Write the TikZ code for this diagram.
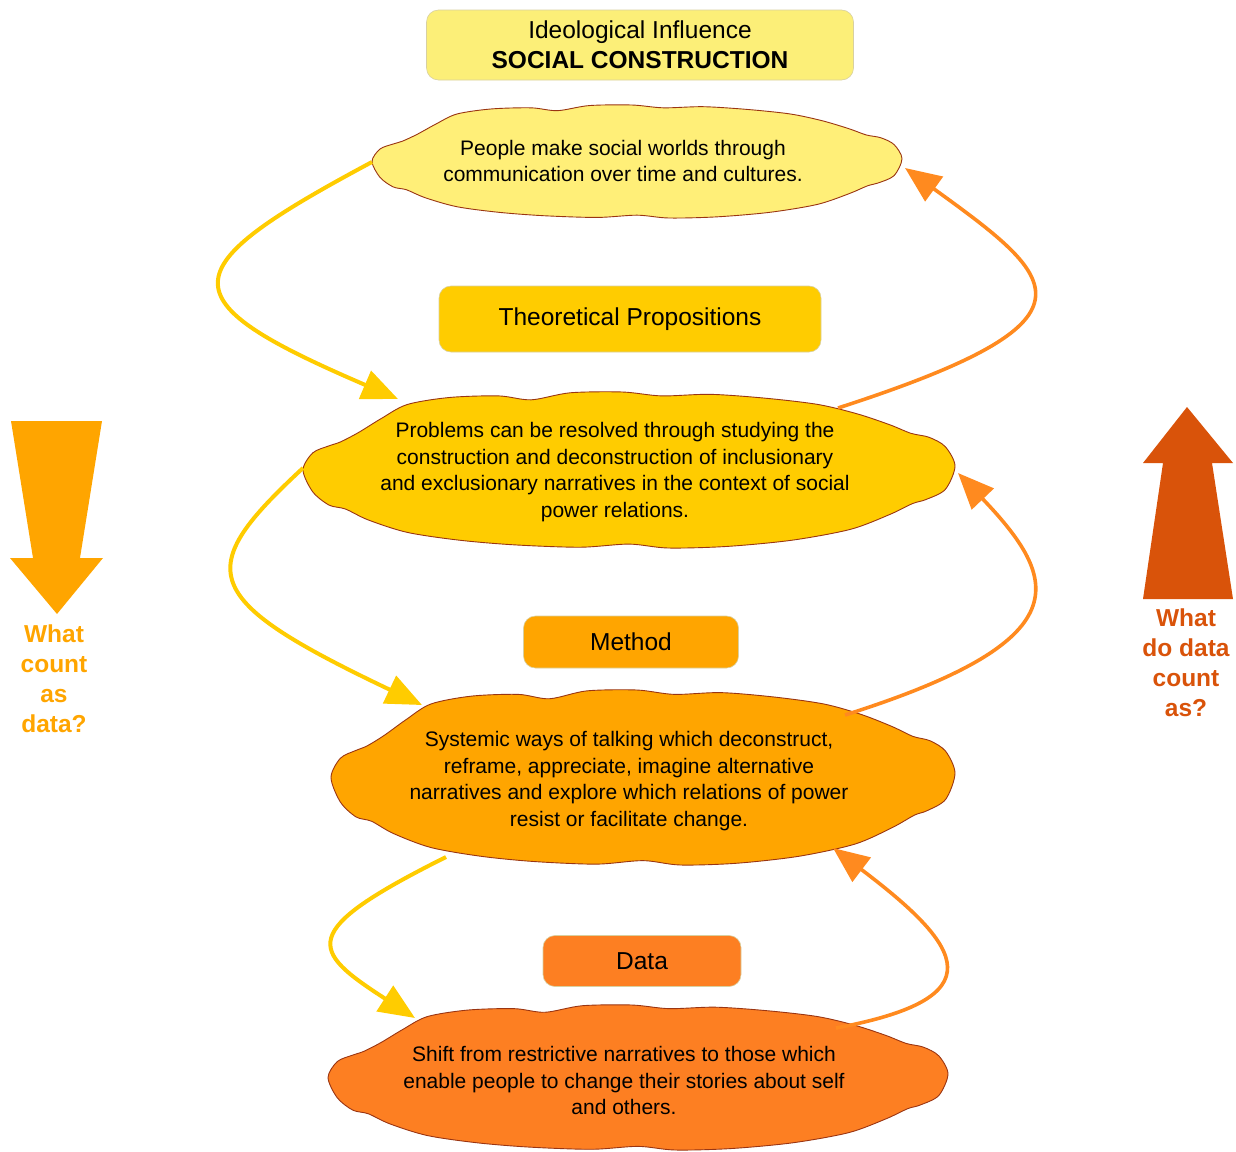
\documentclass[tikz,border=0pt]{standalone}
\usepackage{fontspec}
\setmainfont{Liberation Sans}
\usetikzlibrary{arrows.meta}
\definecolor{titlefill}{HTML}{FCEF78}
\definecolor{cloudA}{HTML}{FFEF78}
\definecolor{gold}{HTML}{FFCC00}
\definecolor{orng}{HTML}{FFA500}
\definecolor{dataor}{HTML}{FD7F22}
\definecolor{redor}{HTML}{D9530A}
\definecolor{flowor}{HTML}{FF8A1F}
\definecolor{cloudline}{HTML}{9A3512}
\definecolor{boxline}{HTML}{D8D0A0}
\tikzset{
  cloudtext/.style={rectangle, inner sep=0pt, font=\fontsize{21}{26.5}\selectfont},
  cloudedge/.style={draw=cloudline, line width=0.9pt},
  rbox/.style={rounded corners=12pt, draw=boxline, line width=0.6pt, inner sep=0pt,
    font=\fontsize{24.5}{30}\selectfont, align=center},
  flowY/.style={draw=gold, line width=4pt, -{Triangle[length=36pt,width=30pt]}},
  flowO/.style={draw=flowor, line width=3.6pt, -{Triangle[length=36pt,width=30pt]}},
  sidelabel/.style={font=\fontsize{24.5}{30}\selectfont\bfseries, align=center}
}
\newcommand{\ctext}[1]{\begin{tabular}{@{}c@{}}#1\end{tabular}\rule{28pt}{0pt}}
% #1 fill, #2 cx, #3 cy, #4 half width, #5 half height
\newcommand{\cloudoutline}[5]{%
  \begin{scope}[shift={(#2,#3)}, x=#4pt, y=-#5pt]
    \filldraw[fill=#1, cloudedge] plot[smooth cycle, tension=0.5] coordinates {
      (-1.00,0.00) (-0.97,-0.22) (-0.92,-0.31) (-0.885,-0.36) (-0.83,-0.48)
      (-0.76,-0.66) (-0.68,-0.84) (-0.55,-0.93) (-0.40,-0.95) (-0.30,-0.90)
      (-0.18,-0.99) (-0.02,-1.00) (0.10,-0.95) (0.25,-0.97) (0.42,-0.92)
      (0.58,-0.84) (0.70,-0.72) (0.80,-0.58) (0.865,-0.47) (0.92,-0.42)
      (0.97,-0.30) (1.00,-0.05) (0.97,0.25) (0.91,0.38) (0.87,0.43)
      (0.80,0.57) (0.68,0.76) (0.50,0.90) (0.30,0.98) (0.12,1.00)
      (0.00,0.95) (-0.15,0.99) (-0.35,0.96) (-0.52,0.90) (-0.68,0.80)
      (-0.80,0.64) (-0.87,0.50) (-0.92,0.45) (-0.97,0.28)};
  \end{scope}}
\begin{document}
\begin{tikzpicture}[x=1pt,y=-1pt]
\useasboundingbox (0,0) rectangle (1236,1151);
% boxes
\node[rbox, fill=titlefill, minimum width=427pt, minimum height=70pt] (title) at (640,45)
  {Ideological Influence\\\textbf{SOCIAL CONSTRUCTION}};
\node[rbox, fill=gold, minimum width=382pt, minimum height=66pt] (theo) at (630,319) {Theoretical Propositions};
\node[rbox, fill=orng, minimum width=215pt, minimum height=52pt] (meth) at (631,642) {Method};
\node[rbox, fill=dataor, minimum width=198pt, minimum height=51pt] (data) at (642,961) {Data};
% cloud outlines
\cloudoutline{cloudA}{637}{161.5}{265}{56.5}
\cloudoutline{gold}{629}{470}{326}{78}
\cloudoutline{orng}{643}{777.5}{312}{87.5}
\cloudoutline{dataor}{638}{1077.5}{310}{72.5}
% cloud texts
\node[cloudtext, minimum width=530pt, minimum height=113pt] (c1) at (637,163)
  {\ctext{People make social worlds through\\communication over time and cultures.}};
\node[cloudtext, minimum width=652pt, minimum height=156pt] (c2) at (629,472)
  {\ctext{Problems can be resolved through studying the\\construction and deconstruction of inclusionary\\and exclusionary narratives in the context of social\\power relations.}};
\node[cloudtext, minimum width=624pt, minimum height=175pt] (c3) at (643,781)
  {\ctext{Systemic ways of talking which deconstruct,\\reframe, appreciate, imagine alternative\\narratives and explore which relations of power\\resist or facilitate change.}};
\node[cloudtext, minimum width=620pt, minimum height=145pt] (c4) at (638,1083)
  {\ctext{Shift from restrictive narratives to those which\\enable people to change their stories about self\\and others.}};
% connectors
\draw[flowY] ([shift={(-265,-1)}]c1.center) .. controls +(-202,108) and +(-233,-100) .. ([shift={(-231,-73)}]c2.center);
\draw[flowY] ([shift={(-326,-4)}]c2.center) .. controls +(-110,102) and +(-225,-107) .. ([shift={(-221,-76)}]c3.center);
\draw[flowY] ([shift={(-197,76)}]c3.center) .. controls +(-150,75) and +(-105,-68) .. ([shift={(-223,-65)}]c4.center);
\draw[flowO] ([shift={(209,-64)}]c2.center) .. controls +(272,-88) and +(155,112) .. ([shift={(268,5)}]c1.center);
\draw[flowO] ([shift={(202,-66)}]c3.center) .. controls +(237,-75) and +(102,107) .. ([shift={(329,1)}]c2.center);
\draw[flowO] ([shift={(198,-55)}]c4.center) .. controls +(160,-30) and +(132,100) .. ([shift={(190,67)}]c3.center);
% big arrows
\fill[orng] (11,421) -- (102,421) -- (80,558) -- (103,558) -- (57,614) -- (10,558) -- (33,558) -- cycle;
\fill[redor] (1187,407) -- (1233,463) -- (1212,463) -- (1233,599) -- (1143,599) -- (1163,463) -- (1143,463) -- cycle;
\node[sidelabel, text=orng] (lq) at (54,679) {What\\count\\as\\data?};
\node[sidelabel, text=redor] (rq) at (1186,663) {What\\do data\\count\\as?};
\end{tikzpicture}
\end{document}
